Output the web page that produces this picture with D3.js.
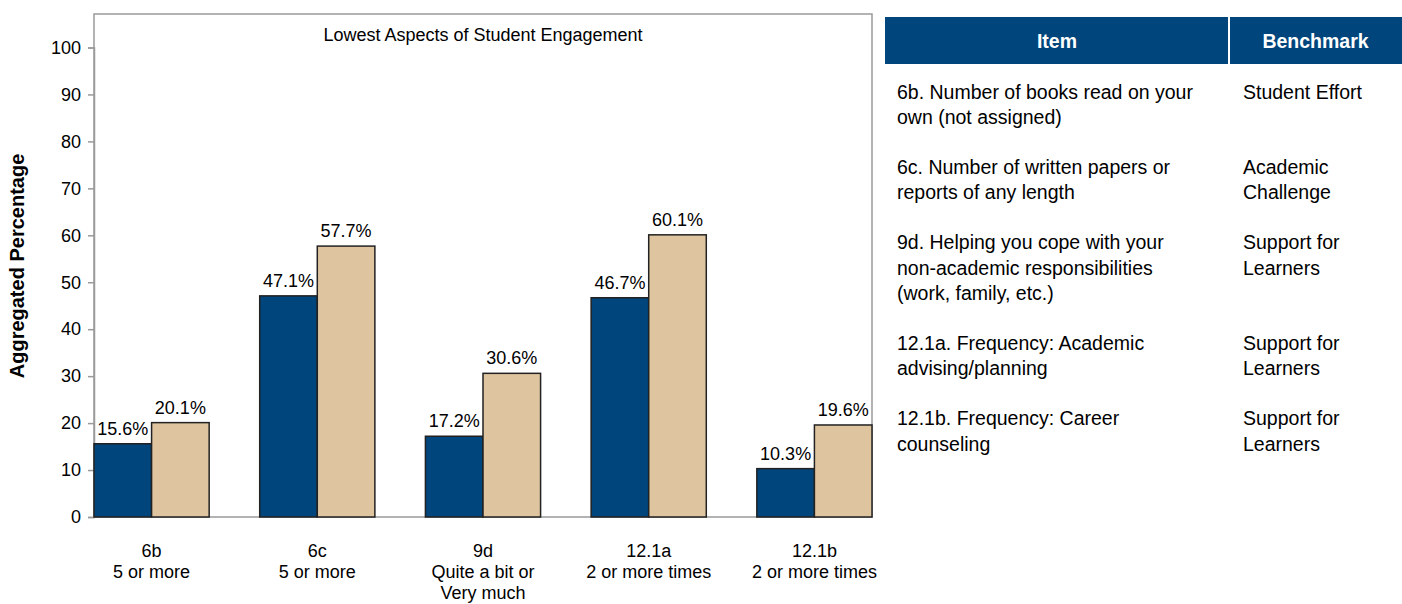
<!DOCTYPE html>
<html lang="en">
<head>
    <meta charset="UTF-8">
    <title>Lowest Aspects of Student Engagement</title>
    <script src="https://cdn.jsdelivr.net/npm/d3@7"></script>
    <style>
        body { margin: 0; background: white; }
        text { font-family: "Liberation Sans", Arial, sans-serif; }
    </style>
</head>
<body>

<script>

    var categories = ["6b", "6c", "9d", "12.1a", "12.1b"]
    var catLabels = [
        ["6b", "5 or more"],
        ["6c", "5 or more"],
        ["9d", "Quite a bit or", "Very much"],
        ["12.1a", "2 or more times"],
        ["12.1b", "2 or more times"]
    ]
    var seriesA = [15.6, 47.1, 17.2, 46.7, 10.3]
    var seriesB = [20.1, 57.7, 30.6, 60.1, 19.6]
    var yTicks = [0, 10, 20, 30, 40, 50, 60, 70, 80, 90, 100]

    var tableHeader = ["Item", "Benchmark"]
    var tableItems = [
        ["6b. Number of books read on your", "own (not assigned)"],
        ["6c. Number of written papers or", "reports of any length"],
        ["9d. Helping you cope with your", "non-academic responsibilities", "(work, family, etc.)"],
        ["12.1a. Frequency: Academic", "advising/planning"],
        ["12.1b. Frequency: Career", "counseling"]
    ]
    var tableBench = [
        ["Student Effort"],
        ["Academic", "Challenge"],
        ["Support for", "Learners"],
        ["Support for", "Learners"],
        ["Support for", "Learners"]
    ]

    var blue = "#00457c"
    var tan = "#dec5a0"
    var fontSize = "18px"
    var tableFont = "19.5px"

    var width = 1402, height = 604
    var margin = {top: 14, left: 94, right: 872, bottom: 517}

    var svg = d3.select("body").append("svg")
        .attr("width", width)
        .attr("height", height)

    var xScale = d3.scaleBand()
        .domain(categories)
        .range([margin.left, margin.right])
        .paddingInner(0.305)
        .paddingOuter(0)
    var xSub = d3.scaleBand()
        .domain([0, 1])
        .range([0, xScale.bandwidth()])
    var yScale = d3.scaleLinear()
        .domain([0, 100])
        .range([margin.bottom, 47.5])

    // plot frame
    svg.append("rect")
        .attr("x", margin.left)
        .attr("y", margin.top)
        .attr("width", margin.right - margin.left)
        .attr("height", margin.bottom - margin.top)
        .attr("fill", "none")
        .attr("stroke", "#9a9a9a")
        .attr("stroke-width", 1.5)

    // y axis
    var yAxis = svg.append("g")
        .attr("transform", "translate(" + margin.left + ",0)")
        .call(d3.axisLeft(yScale).tickValues(yTicks).tickSize(6).tickPadding(7))
    yAxis.select(".domain").attr("stroke", "#9a9a9a").attr("stroke-width", 1.5)
    yAxis.selectAll(".tick line").attr("stroke", "#9a9a9a").attr("stroke-width", 1.5)
    yAxis.selectAll(".tick text")
        .attr("font-size", fontSize)
        .attr("font-family", "Liberation Sans, Arial, sans-serif")
        .attr("fill", "#000")

    svg.append("text")
        .attr("transform", "translate(24," + 266 + ") rotate(-90)")
        .attr("text-anchor", "middle")
        .attr("font-size", "20px")
        .attr("font-weight", "bold")
        .text("Aggregated Percentage")

    svg.append("text")
        .attr("x", (margin.left + margin.right) / 2)
        .attr("y", 41)
        .attr("text-anchor", "middle")
        .attr("font-size", fontSize)
        .text("Lowest Aspects of Student Engagement")

    // bars
    var series = [seriesA, seriesB]
    var colors = [blue, tan]
    series.forEach(function (vals, s) {
        svg.append("g").selectAll("rect")
            .data(vals)
            .join("rect")
            .attr("x", function (d, i) { return xScale(categories[i]) + xSub(s) })
            .attr("y", function (d) { return yScale(d) })
            .attr("width", xSub.bandwidth())
            .attr("height", function (d) { return yScale(0) - yScale(d) })
            .attr("fill", colors[s])
            .attr("stroke", "#222")
            .attr("stroke-width", 1.5)

        svg.append("g").selectAll("text")
            .data(vals)
            .join("text")
            .attr("x", function (d, i) { return xScale(categories[i]) + xSub(s) + xSub.bandwidth() / 2 })
            .attr("y", function (d) { return yScale(d) - 9 })
            .attr("text-anchor", "middle")
            .attr("font-size", fontSize)
            .text(function (d) { return d.toFixed(1) + "%" })
    })

    // x labels
    catLabels.forEach(function (lines, i) {
        var t = svg.append("text")
            .attr("x", xScale(categories[i]) + xScale.bandwidth() / 2)
            .attr("y", 557)
            .attr("text-anchor", "middle")
            .attr("font-size", fontSize)
        lines.forEach(function (l, j) {
            t.append("tspan")
                .attr("x", xScale(categories[i]) + xScale.bandwidth() / 2)
                .attr("dy", j == 0 ? 0 : 21)
                .text(l)
        })
    })

    // table on the right
    var tab = {left: 885, split: 1229, right: 1402, top: 17, headH: 47}
    svg.append("rect")
        .attr("x", tab.left).attr("y", tab.top)
        .attr("width", tab.right - tab.left).attr("height", tab.headH)
        .attr("fill", blue)
    svg.append("line")
        .attr("x1", tab.split).attr("x2", tab.split)
        .attr("y1", tab.top).attr("y2", tab.top + tab.headH)
        .attr("stroke", "white").attr("stroke-width", 2)
    svg.append("text")
        .attr("x", (tab.left + tab.split) / 2).attr("y", 48)
        .attr("text-anchor", "middle").attr("font-size", tableFont)
        .attr("font-weight", "bold").attr("fill", "white")
        .text(tableHeader[0])
    svg.append("text")
        .attr("x", (tab.split + tab.right) / 2).attr("y", 48)
        .attr("text-anchor", "middle").attr("font-size", tableFont)
        .attr("font-weight", "bold").attr("fill", "white")
        .text(tableHeader[1])

    var lineH = 25.8, rowGap = 23.5
    var yPos = 98.5
    tableItems.forEach(function (lines, i) {
        var t1 = svg.append("text").attr("font-size", tableFont).attr("y", yPos)
        lines.forEach(function (l, j) {
            t1.append("tspan").attr("x", 897).attr("dy", j == 0 ? 0 : lineH).text(l)
        })
        var t2 = svg.append("text").attr("font-size", tableFont).attr("y", yPos)
        tableBench[i].forEach(function (l, j) {
            t2.append("tspan").attr("x", 1243).attr("dy", j == 0 ? 0 : lineH).text(l)
        })
        var n = Math.max(lines.length, tableBench[i].length)
        yPos += n * lineH + rowGap
    })

</script>

</body>
</html>
